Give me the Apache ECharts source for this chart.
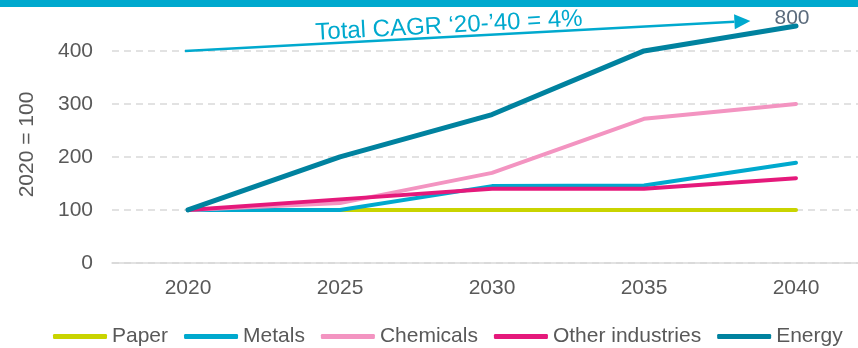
<!DOCTYPE html>
<html>
<head>
<meta charset="utf-8">
<script src="https://cdn.jsdelivr.net/npm/echarts@6/dist/echarts.min.js"></script>
<style>
  html, body { margin: 0; padding: 0; background: #ffffff; }
  #chart { width: 858px; height: 348px; }
</style>
</head>
<body>
<div id="chart"></div>
<script>
// Industrial demand index, 2020 = 100
const years = ['2020', '2025', '2030', '2035', '2040'];
const paper = [100, 100, 100, 100, 100];
const metals = [100, 100, 145, 146, 189];
const chemicals = [100, 113, 170, 272, 300];
const otherIndustries = [100, 120, 140, 140, 160];
const energy = [100, 200, 280, 400, 800];
const yTicks = [0, 100, 200, 300, 400];
const cagrText = 'Total CAGR \u201820-\u201940 = 4%';

// The value axis is broken between these two values so that Energy's 2040 value fits
const BREAK_START = 440;
const BREAK_END = 793;
const AXIS_MAX = 800;
// Height of the drawn scale in unbroken units
const SCALE_TOP = BREAK_START + (AXIS_MAX - BREAK_END);

const FONT = "'Liberation Sans', Arial, sans-serif";
const TEXT = '#595959';

const chart = echarts.init(document.getElementById('chart'), null, { renderer: 'canvas' });

function lineSeries(name, data, color, width, z) {
  return {
    name: name,
    type: 'line',
    data: data,
    yAxisIndex: 0,
    symbol: 'none',
    z: z,
    clip: false,
    lineStyle: { color: color, width: width, cap: 'round', join: 'round' },
    itemStyle: { color: color },
    emphasis: { disabled: true },
    animation: false
  };
}

const energySeries = lineSeries('Energy', energy, '#00829f', 5, 6);
// value label at the last point, drawn above it
energySeries.endLabel = {
  show: true,
  formatter: p => String(p.value),
  align: 'center', verticalAlign: 'bottom',
  distance: 0, offset: [-4, 3],
  color: '#5b6b7c', fontSize: 21, fontFamily: FONT
};

const option = {
  animation: false,
  textStyle: { fontFamily: FONT },
  grid: { left: 112, top: 26, bottom: 85, width: 760, outerBoundsMode: 'none', containLabel: false },
  legend: {
    left: 53, top: 326, padding: 0,
    icon: 'roundRect',
    itemWidth: 54, itemHeight: 5, itemGap: 16,
    textStyle: { color: TEXT, fontSize: 21, fontFamily: FONT },
    data: ['Paper', 'Metals', 'Chemicals', 'Other industries', 'Energy']
  },
  xAxis: {
    type: 'category',
    data: years,
    boundaryGap: true,
    axisTick: { show: false },
    axisLine: { lineStyle: { color: '#d9d9d9', width: 1.5 } },
    axisLabel: { color: TEXT, fontSize: 21, fontFamily: FONT, margin: 15 },
    splitLine: { show: false }
  },
  yAxis: [
    {
      // data scale (with the break), not drawn itself
      type: 'value',
      min: 0, max: AXIS_MAX,
      breaks: [{ start: BREAK_START, end: BREAK_END, gap: 0 }],
      breakArea: { show: false },
      show: false,
      splitLine: { show: false }
    },
    {
      // drawn scale: labels and dashed grid lines
      type: 'value',
      position: 'left',
      min: 0, max: SCALE_TOP, interval: 100,
      name: '2020 = 100',
      nameLocation: 'middle',
      nameGap: 74,
      nameRotate: 90,
      nameTextStyle: { color: TEXT, fontSize: 21, fontFamily: FONT },
      axisLine: { show: false },
      axisTick: { show: false },
      axisLabel: {
        color: TEXT, fontSize: 21, fontFamily: FONT, margin: 19, showMaxLabel: false,
        formatter: v => (yTicks.indexOf(v) >= 0 ? String(v) : '')
      },
      splitLine: { showMaxLine: false, lineStyle: { color: '#d9d9d9', width: 1.5, type: [7, 5] } }
    }
  ],
  series: [
    lineSeries('Paper', paper, '#c9d400', 4, 2),
    lineSeries('Metals', metals, '#00a9ce', 4, 3),
    lineSeries('Chemicals', chemicals, '#f394c1', 4, 4),
    lineSeries('Other industries', otherIndustries, '#e5197b', 4, 5),
    energySeries
  ]
};

chart.setOption(option);

// Annotation: growth arrow and header band
const p0 = chart.convertToPixel({ xAxisIndex: 0, yAxisIndex: 1 }, ['2020', 400]);
const p35 = chart.convertToPixel({ xAxisIndex: 0, yAxisIndex: 1 }, ['2035', 400]);
const p40 = chart.convertToPixel({ xAxisIndex: 0, yAxisIndex: 1 }, ['2040', 400]);
const tip = [p35[0] + 0.7 * (p40[0] - p35[0]), p0[1] - 30];
const ang = Math.atan2(p0[1] - tip[1], tip[0] - p0[0]);
const headLen = 16, headHalf = 7.5;
const ux = Math.cos(ang), uy = -Math.sin(ang);
const base = [tip[0] - ux * headLen, tip[1] - uy * headLen];
const nx = -uy, ny = ux;
const ARROW = '#00a9ce';

chart.setOption({
  graphic: [
    { type: 'rect', left: 0, top: 0, shape: { x: 0, y: 0, width: 858, height: 7 },
      style: { fill: '#00a9ce' }, silent: true, z: 10 },
    { type: 'line', shape: { x1: p0[0] - 3, y1: p0[1], x2: base[0], y2: base[1] },
      style: { stroke: ARROW, lineWidth: 2.5 }, silent: true, z: 10 },
    { type: 'polygon', shape: { points: [
        tip,
        [base[0] + nx * headHalf, base[1] + ny * headHalf],
        [base[0] - nx * headHalf, base[1] - ny * headHalf]
      ] }, style: { fill: ARROW }, silent: true, z: 10 },
    { type: 'text', x: 449, y: 26, rotation: ang, originX: 0, originY: 0,
      style: { text: cagrText, fill: ARROW, font: '24px ' + FONT,
        align: 'center', verticalAlign: 'middle' }, silent: true, z: 10 }
  ]
});
</script>
</body>
</html>
